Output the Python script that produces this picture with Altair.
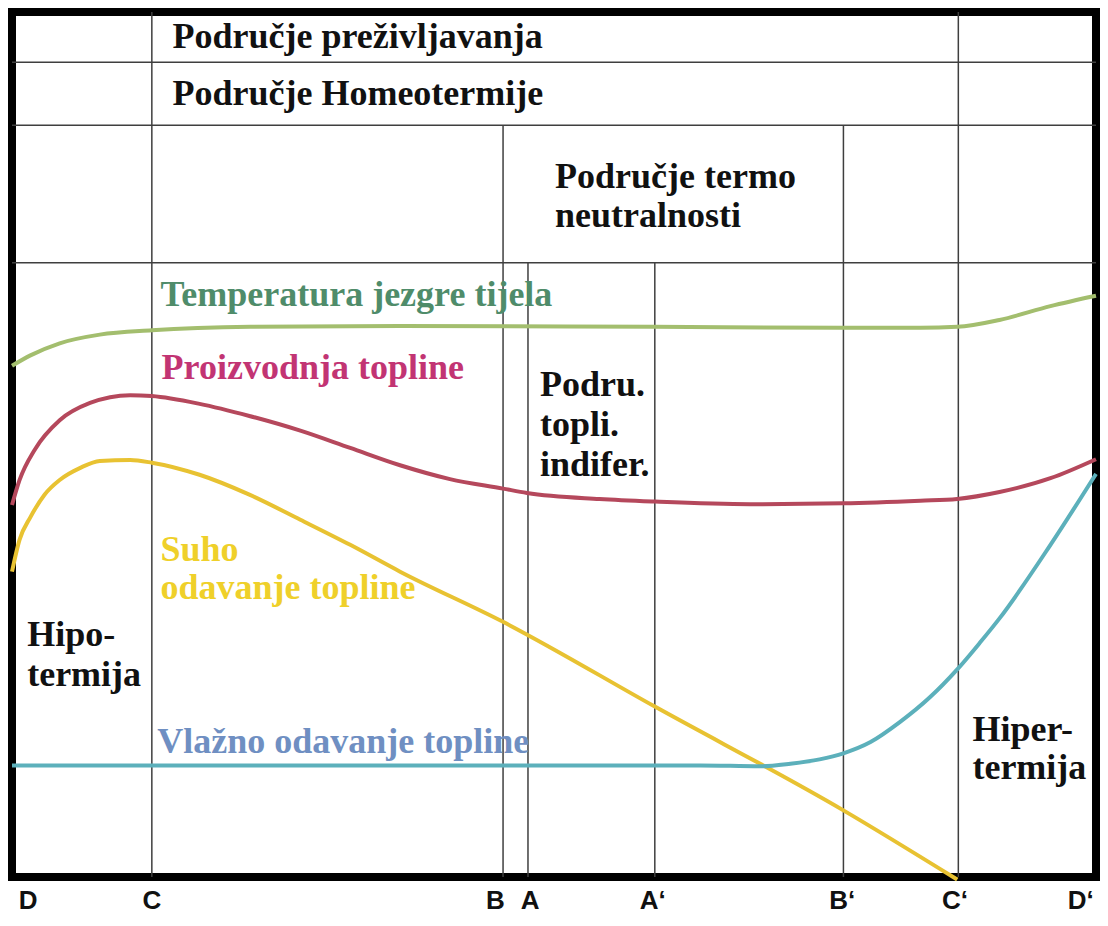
import altair as alt
import pandas as pd

# ---- abstract scales: x = relative ambient temperature (D=0 ... D'=100), y = relative level (0..100)
# zone boundaries
zone_names = ["C", "B", "A", "A'", "B'", "C'"]
zone_x = [12.9, 45.3, 47.6, 59.3, 76.7, 87.3]
zone_top = [100, 86.9, 71.0, 71.0, 86.9, 100]

# horizontal separators of the header rows
row_lines = [94.2, 86.9, 71.0]

# curves
core_x = [0, 1.7, 4.4, 8.1, 12.9, 22.0, 35.8, 59.3, 76.7, 83.8, 87.2, 91.1, 95.8, 100]
core_y = [59.1, 60.3, 61.7, 62.7, 63.2, 63.6, 63.7, 63.6, 63.5, 63.5, 63.6, 64.4, 66.0, 67.2]

prod_x = [0, 0.7, 2.1, 4.4, 7.2, 10.9, 12.9, 17.3, 21.9, 26.6, 31.2, 35.8, 40.4, 45.3, 47.5,
          54.2, 59.3, 68.1, 76.7, 83.8, 87.2, 91.1, 95.8, 100]
prod_y = [43.0, 45.9, 49.4, 52.8, 54.8, 55.7, 55.6, 54.7, 53.3, 51.6, 49.6, 47.6, 46.0, 44.9, 44.4,
          43.7, 43.4, 43.1, 43.2, 43.5, 43.7, 44.5, 46.1, 48.3]

dry_x = [0, 0.7, 1.7, 3.0, 4.4, 6.3, 8.1, 10.9, 12.9, 17.3, 21.9, 26.6, 31.2, 35.8, 45.3, 59.3, 76.7, 87.2]
dry_y = [35.3, 39.0, 41.6, 44.2, 45.9, 47.3, 48.1, 48.2, 47.9, 46.5, 44.2, 41.3, 38.4, 35.3, 29.5, 19.7, 7.7, -0.3]

wet_x = [0, 30.3, 59.3, 63.5, 69.0, 71.8, 74.5, 76.7, 79.2, 81.9, 84.7, 87.2, 89.3, 91.1, 95.8, 100]
wet_y = [12.9, 12.9, 12.9, 12.9, 12.8, 13.1, 13.6, 14.3, 15.6, 17.9, 20.8, 24.0, 27.1, 29.9, 38.4, 46.6]

series_names = ["Temperatura jezgre tijela", "Proizvodnja topline",
                "Suho odavanje topline", "Vlažno odavanje topline"]
series_colors = ["#a3be6e", "#b5485c", "#e8c232", "#5cb0bb"]

# annotations
label_text = ["Područje preživljavanja", "Područje Homeotermije", "Područje termo", "neutralnosti",
              "Temperatura jezgre tijela", "Proizvodnja topline", "Podru.", "topli.", "indifer.",
              "Suho", "odavanje topline", "Hipo-", "termija", "Vlažno odavanje topline",
              "Hiper-", "termija"]
label_x = [14.8, 14.8, 50.1, 50.1, 13.7, 13.8, 48.7, 48.7, 48.7, 13.7, 13.7, 1.4, 1.4, 13.4, 88.6, 88.6]
label_y = [97.1, 90.5, 80.9, 76.4, 67.3, 58.8, 56.9, 52.3, 47.6, 37.8, 33.4, 28.0, 23.4, 15.6, 17.0, 12.6]
label_kind = ["black", "black", "black", "black", "green", "magenta", "black", "black", "black",
              "yellow", "yellow", "black", "black", "blue", "black", "black"]
kind_names = ["black", "green", "magenta", "yellow", "blue"]
kind_colors = ["#111111", "#4f8c6a", "#c23473", "#efd02a", "#6f8fc2"]

tick_text = ["D", "C", "B", "A", "A‘", "B‘", "C‘", "D‘"]
tick_x = [1.5, 12.9, 44.6, 47.8, 59.1, 76.6, 87.0, 98.6]
tick_y = -3.7

# ---- build tables
curves = pd.concat([
    pd.DataFrame({"t": xs, "v": ys, "serija": name, "i": range(len(xs))})
    for name, xs, ys in zip(series_names, [core_x, prod_x, dry_x, wet_x], [core_y, prod_y, dry_y, wet_y])
])
zones = pd.DataFrame({"zona": zone_names, "x": zone_x, "y0": 0, "y1": zone_top})
rows = pd.DataFrame({"y": row_lines, "x0": 0, "x1": 100})
labels = pd.DataFrame({"tekst": label_text, "x": label_x, "y": label_y, "vrsta": label_kind})
ticks = pd.DataFrame({"tekst": tick_text, "x": tick_x, "y": tick_y})

xs = alt.Scale(domain=[0, 100], nice=False, zero=False)
ys = alt.Scale(domain=[0, 100], nice=False, zero=False)

vlines = alt.Chart(zones).mark_rule(color="#3f3f3f", strokeWidth=1.5).encode(
    x=alt.X("x:Q", scale=xs, axis=None),
    y=alt.Y("y0:Q", scale=ys, axis=None),
    y2="y1:Q",
)
hlines = alt.Chart(rows).mark_rule(color="#3f3f3f", strokeWidth=1.5).encode(
    x=alt.X("x0:Q", scale=xs, axis=None),
    x2="x1:Q",
    y=alt.Y("y:Q", scale=ys, axis=None),
)
lines = alt.Chart(curves).mark_line(strokeWidth=4, interpolate="monotone", clip=False).encode(
    x=alt.X("t:Q", scale=xs, axis=None),
    y=alt.Y("v:Q", scale=ys, axis=None),
    color=alt.Color("serija:N", scale=alt.Scale(domain=series_names, range=series_colors), legend=None),
    detail="serija:N",
    order="i:Q",
)
texts = alt.Chart(labels).mark_text(
    align="left", baseline="middle", font="Liberation Serif", fontWeight="bold", fontSize=36
).encode(
    x=alt.X("x:Q", scale=xs, axis=None),
    y=alt.Y("y:Q", scale=ys, axis=None),
    text="tekst:N",
    color=alt.Color("vrsta:N", scale=alt.Scale(domain=kind_names, range=kind_colors), legend=None),
)
tick_labels = alt.Chart(ticks).mark_text(
    align="center", baseline="alphabetic", font="Liberation Sans", fontWeight="bold", fontSize=26,
    color="#111111"
).encode(
    x=alt.X("x:Q", scale=xs, axis=None),
    y=alt.Y("y:Q", scale=ys, axis=None),
    text="tekst:N",
)

chart = alt.layer(vlines, hlines, lines, texts, tick_labels).resolve_scale(color="independent").properties(
    width=1084, height=865,
    autosize=alt.AutoSizeParams(type="none"),
    padding={"left": 4, "top": 4, "right": 4, "bottom": 39},
).configure_view(stroke="#000000", strokeWidth=8)

chart.save("out.html", embed_options={"renderer": "svg", "actions": False})
